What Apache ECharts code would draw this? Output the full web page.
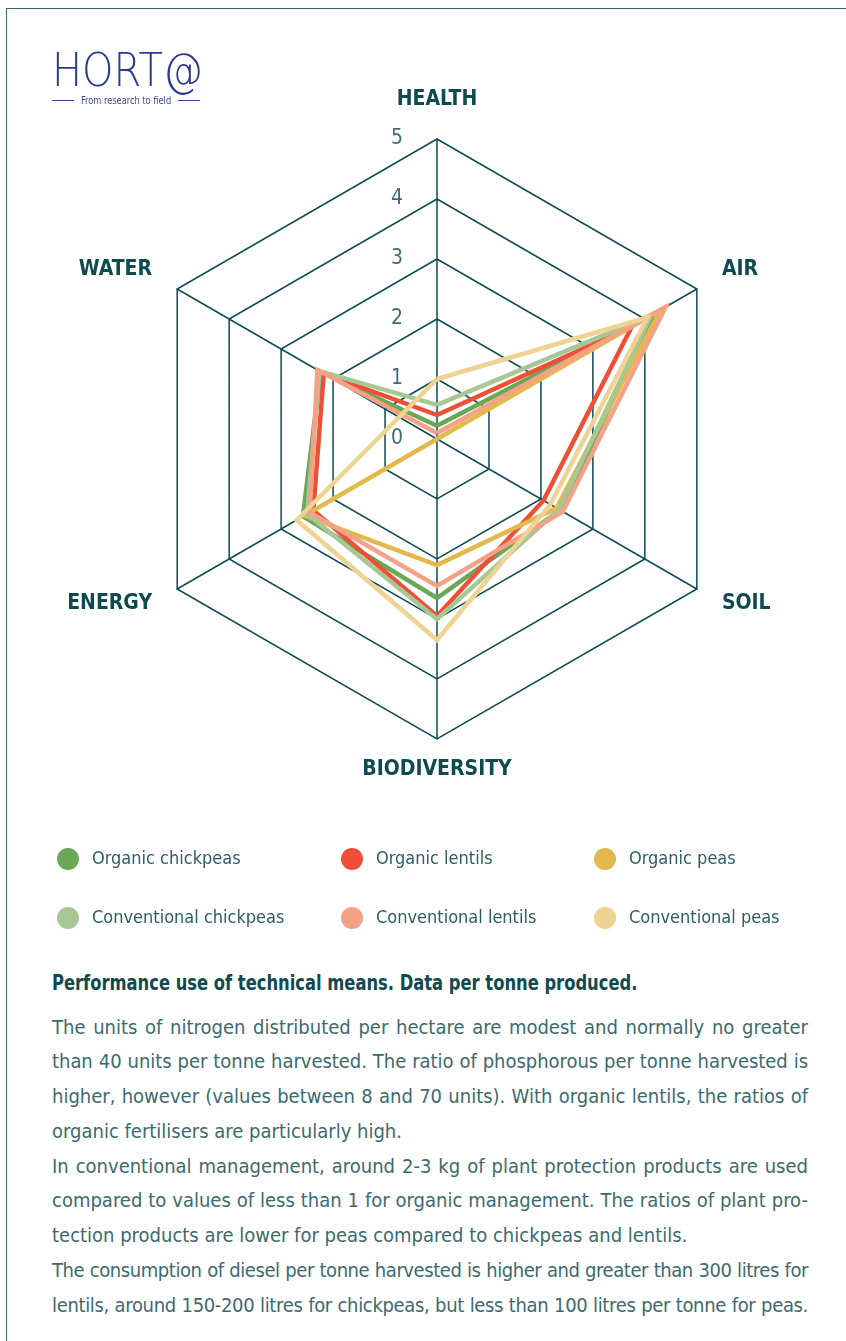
<!DOCTYPE html>
<html>
<head>
<meta charset="utf-8">
<script src="https://cdn.jsdelivr.net/npm/echarts@6/dist/echarts.min.js"></script>
<style>
  html, body { margin: 0; padding: 0; background: #ffffff; }
  #page { position: relative; width: 846px; height: 1341px; overflow: hidden; background: #fff; }
  #frame { position: absolute; left: 6px; top: 8px; width: 900px; height: 1400px; border: 1px solid #2e6b70; box-sizing: border-box; }
  #chart { position: absolute; left: 0; top: 0; width: 846px; height: 950px; }
  #logo { position: absolute; left: 52px; top: 47px; font: 200 46px 'DejaVu Sans', sans-serif; line-height: 46px;
          color: #2b3a8f; transform: scaleX(0.87); transform-origin: left top; white-space: nowrap; }
  #tagline { position: absolute; left: 52px; top: 94px; width: 148px; height: 12px; display: flex; align-items: center;
             font: 10px 'DejaVu Sans Condensed', sans-serif; color: #3b47a0; }
  #tagline .rule { flex: 1; height: 1px; background: #3b47a0; }
  #tagline span { padding: 0 3px; white-space: nowrap; transform: scaleX(0.92); }
  #notes { position: absolute; left: 52px; top: 965px; width: 756px; color: #3d6a70;
           font-family: 'DejaVu Sans Condensed', sans-serif; }
  #notes .head { height: 36px; line-height: 36px; white-space: nowrap; }
  #notes .head span { display: inline-block; font-weight: bold; font-size: 21px; color: #0f4a50;
                      transform: scaleX(0.865); transform-origin: left center; }
  #notes .body { margin-top: 8.6px; }
  #notes .ln { font-size: 20px; height: 34.75px; line-height: 34.75px; text-align: justify; text-align-last: justify; }
  #notes .ln.end { text-align-last: left; }
</style>
</head>
<body>
<div id="page">
  <div id="frame"></div>
  <div id="chart"></div>
  <div id="logo">HORT@</div>
  <div id="tagline"><div class="rule"></div><span>From research to field</span><div class="rule"></div></div>
  <div id="notes">
    <div class="head"><span>Performance use of technical means. Data per tonne produced.</span></div>
    <div class="body">
      <div class="ln">The units of nitrogen distributed per hectare are modest and normally no greater</div>
      <div class="ln">than 40 units per tonne harvested. The ratio of phosphorous per tonne harvested is</div>
      <div class="ln">higher, however (values between 8 and 70 units). With organic lentils, the ratios of</div>
      <div class="ln end">organic fertilisers are particularly high.</div>
      <div class="ln">In conventional management, around 2-3 kg of plant protection products are used</div>
      <div class="ln">compared to values of less than 1 for organic management. The ratios of plant pro-</div>
      <div class="ln end">tection products are lower for peas compared to chickpeas and lentils.</div>
      <div class="ln">The consumption of diesel per tonne harvested is higher and greater than 300 litres for</div>
      <div class="ln">lentils, around 150-200 litres for chickpeas, but less than 100 litres per tonne for peas.</div>
    </div>
  </div>
</div>
<script>
// Keep every paragraph line on one row: tighten letters on lines that are too long
document.querySelectorAll('#notes .ln').forEach(el => {
  const avail = el.clientWidth;
  el.style.whiteSpace = 'nowrap';
  el.style.display = 'inline-block';
  const natural = el.scrollWidth;
  el.style.display = '';
  el.style.whiteSpace = '';
  if (natural > avail - 2) {
    const chars = el.textContent.length;
    el.style.letterSpacing = (-(natural - avail + 4) / chars).toFixed(3) + 'px';
  }
});

// Radar axes, listed counter-clockwise from the top
const indicators = ['HEALTH', 'WATER', 'ENERGY', 'BIODIVERSITY', 'SOIL', 'AIR'];
const scaleMax = 5;

// Scores per axis (same order as indicators)
const organicChickpeas      = [0.22, 2.24, 2.58, 2.65, 2.37, 4.20];
const organicLentils        = [0.40, 2.18, 2.38, 2.95, 2.05, 3.75];
const organicPeas           = [0.00, 0.00, 2.55, 2.10, 2.30, 4.30];
const conventionalChickpeas = [0.57, 2.26, 2.50, 3.00, 2.35, 4.12];
const conventionalLentils   = [0.10, 2.30, 2.45, 2.45, 2.42, 4.40];
const conventionalPeas      = [1.00, 0.73, 2.70, 3.35, 2.18, 4.05];

const seriesNames = ['Organic chickpeas', 'Organic lentils', 'Organic peas',
                     'Conventional chickpeas', 'Conventional lentils', 'Conventional peas'];
const seriesValues = [organicChickpeas, organicLentils, organicPeas,
                      conventionalChickpeas, conventionalLentils, conventionalPeas];
const seriesColors = ['#6aa756', '#ef4f37', '#e4b94b', '#a7c795', '#f5a186', '#efd393'];

const COND = "'DejaVu Sans Condensed', sans-serif";
const GRID = '#0f4b52';
const NAME_COLOR = '#0f4a50';

const chart = echarts.init(document.getElementById('chart'), null, { renderer: 'canvas' });

const legendColumns = [
  { left: 57,  names: [seriesNames[0], seriesNames[3]] },
  { left: 341, names: [seriesNames[1], seriesNames[4]] },
  { left: 594, names: [seriesNames[2], seriesNames[5]] }
];

const nameStyle = { fontFamily: COND, fontSize: 21, fontWeight: 'bold', color: NAME_COLOR };

chart.setOption({
  animation: false,
  legend: legendColumns.map(col => ({
    data: col.names,
    orient: 'vertical',
    left: col.left,
    top: 848,
    padding: 0,
    icon: 'circle',
    itemWidth: 22,
    itemHeight: 22,
    itemGap: 37,
    selectedMode: false,
    textStyle: { fontFamily: COND, fontSize: 18, color: '#2f5d63', lineHeight: 22, padding: [0, 0, 0, 8] }
  })),
  radar: {
    center: [437, 439],
    radius: 300,
    startAngle: 90,
    shape: 'polygon',
    splitNumber: 5,
    nameGap: 29,
    indicator: indicators.map((name, i) => ({
      name: name,
      min: 0,
      max: scaleMax,
      axisLabel: i === 0 ? { show: true } : { show: false }
    })),
    axisName: Object.assign({}, nameStyle, {
      formatter: name => {
        if (name === 'BIODIVERSITY') return '{low|' + name + '}';
        if (name === 'AIR' || name === 'WATER') return '{up|' + name + '}';
        return name;
      },
      rich: {
        low: Object.assign({}, nameStyle, { lineHeight: 4 }),
        up: Object.assign({}, nameStyle, { padding: [0, 0, 10, 0] })
      }
    }),
    axisLabel: {
      show: false,
      fontFamily: COND,
      fontSize: 21,
      color: '#3e6c72',
      margin: 34
    },
    axisTick: { show: false },
    axisLine: { show: true, lineStyle: { color: GRID, width: 1.5 } },
    splitLine: { show: true, lineStyle: { color: GRID, width: 1.5 } },
    splitArea: { show: false }
  },
  series: seriesNames.map((name, i) => ({
    type: 'radar',
    name: name,
    symbol: 'none',
    color: seriesColors[i],
    lineStyle: { width: 4.5, color: seriesColors[i], join: 'miter' },
    emphasis: { disabled: true },
    data: [{ name: name, value: seriesValues[i] }]
  }))
});
</script>
</body>
</html>
